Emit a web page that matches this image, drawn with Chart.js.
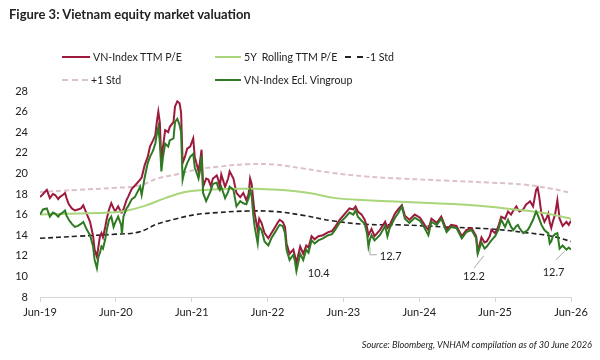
<!DOCTYPE html>
<html>
<head>
<meta charset="utf-8">
<script src="https://cdn.jsdelivr.net/npm/chart.js@4.4.1/dist/chart.umd.min.js"></script>
<style>
  html, body { margin:0; padding:0; background:#fff; }
  #wrap { position:relative; width:600px; height:360px; font-family: Lato, "Open Sans", sans-serif; color:#222; }
  #chart { position:absolute; left:0; top:0; }
  .title { position:absolute; left:9px; top:6px; font-size:13px; font-weight:bold; color:#222; }
  .src { position:absolute; right:8px; top:339px; font-size:9.2px; font-style:italic; color:#222; }
  .leg { position:absolute; font-size:10.6px; color:#222; height:14px; line-height:14px; white-space:pre; }
  .leg i { display:inline-block; vertical-align:middle; margin-right:3px; margin-top:-2px; }
</style>
</head>
<body>
<div id="wrap">
  <canvas id="chart" width="600" height="360"></canvas>
  <div class="title">Figure 3: Vietnam equity market valuation</div>
  <div id="legend"></div>
  <div class="src">Source: Bloomberg, VNHAM compilation as of 30 June 2026</div>
</div>
<script>
// ----------------- DATA -----------------
// x = years since Jun-19
const xLabels = ['Jun-19','Jun-20','Jun-21','Jun-22','Jun-23','Jun-24','Jun-25','Jun-26'];

const t = [0,0.04,0.09,0.13,0.17,0.20,0.24,0.26,0.30,0.33,0.35,0.38,0.42,0.46,0.50,0.54,0.57,0.62,0.66,0.70,
  0.72,0.75,0.77,0.79,0.81,0.83,0.86,0.88,0.91,0.94,0.97,0.99,1.03,1.07,1.08,1.10,1.14,1.16,1.21,1.25,
  1.32,1.34,1.38,1.42,1.45,1.49,1.52,1.54,1.56,1.58,1.60,1.62,1.65,1.69,1.71,1.76,1.78,1.81,1.84,1.86,
  1.88,1.91,1.94,1.98,2.02,2.04,2.09,2.11,2.13,2.15,2.19,2.22,2.25,2.28,2.33,2.35,2.37,2.39,2.44,2.48,
  2.50,2.55,2.59,2.64,2.68,2.72,2.75,2.77,2.79,2.81,2.83,2.87,2.89,2.92,2.96,3.01,3.05,3.10,3.14,3.16,
  3.20,3.23,3.25,3.29,3.34,3.36,3.38,3.43,3.47,3.51,3.54,3.58,3.62,3.67,3.73,3.80,3.85,3.89,3.95,4.02,
  4.08,4.13,4.16,4.19,4.24,4.28,4.31,4.33,4.35,4.37,4.41,4.48,4.55,4.58,4.61,4.68,4.72,4.77,4.81,4.87,
  4.94,5.01,5.07,5.12,5.16,5.23,5.29,5.36,5.42,5.49,5.56,5.62,5.69,5.75,5.77,5.82,5.86,5.89,5.93,5.95,
  6.00,6.04,6.08,6.13,6.17,6.21,6.24,6.28,6.30,6.32,6.37,6.41,6.43,6.46,6.50,6.54,6.56,6.58,6.61,6.65,
  6.68,6.70,6.72,6.74,6.76,6.79,6.82,6.85,6.89,6.94,6.97,7.00];

const vnIndexPE = [17.7,18.0,18.4,17.6,18.0,17.9,17.5,17.7,17.9,18.1,17.6,17.0,16.6,16.4,16.5,16.6,16.9,16.0,15.3,13.9,
  12.6,11.9,12.9,13.9,14.2,13.8,14.8,15.6,16.5,17.1,16.6,16.3,16.8,16.2,16.3,16.5,17.4,17.7,18.5,18.8,
  19.4,19.6,20.8,21.6,22.6,23.2,23.7,25.0,26.0,24.9,21.0,22.5,24.2,24.0,24.5,25.0,26.5,27.0,26.8,25.9,
  21.0,21.6,22.4,22.6,23.4,21.6,20.2,21.2,22.3,18.7,19.5,19.4,18.8,19.5,19.8,19.4,18.7,19.9,18.7,19.5,
  20.2,19.5,18.1,17.7,18.1,17.4,18.0,19.5,19.0,17.5,16.1,14.5,15.6,15.2,14.2,13.7,14.2,14.8,15.3,15.5,
  15.3,14.8,13.2,12.2,12.6,12.0,11.3,12.9,12.2,13.0,12.8,13.9,13.6,13.9,14.0,14.3,14.4,14.8,15.5,16.1,
  16.6,16.5,16.8,16.3,16.0,15.5,14.8,14.0,14.3,14.6,13.9,14.5,15.3,14.7,15.0,16.1,16.5,16.9,15.9,15.5,
  16.0,15.7,15.0,14.5,15.6,15.2,15.8,14.5,15.0,14.9,13.9,14.5,14.7,13.9,12.4,13.8,13.3,13.4,13.9,14.5,
  14.2,14.8,15.8,15.6,16.3,16.0,16.4,16.8,16.5,16.3,16.5,17.0,17.1,17.3,16.8,18.4,18.6,17.8,16.1,15.3,
  15.7,16.1,15.2,14.7,15.3,16.0,17.4,15.6,14.9,15.3,15.0,15.4];

const exVingroup = [16.0,16.5,16.6,15.8,16.2,16.1,15.8,16.0,16.2,16.4,15.9,15.5,15.1,14.8,14.9,15.1,15.3,14.5,14.0,12.9,
  11.6,10.8,11.9,12.3,12.9,12.7,13.6,14.5,15.5,15.8,14.8,15.2,15.8,15.0,14.1,15.8,16.6,16.8,17.5,17.7,
  18.7,17.9,19.6,21.0,21.6,22.2,22.9,23.8,24.5,23.0,20.2,21.5,22.9,22.6,23.2,23.4,25.0,25.3,24.7,24.0,
  19.4,20.4,21.0,21.6,21.9,20.6,19.5,20.3,21.7,18.1,17.3,17.8,18.3,19.0,19.1,18.6,18.4,18.7,17.6,18.2,
  18.7,18.4,16.8,17.3,17.1,17.0,17.6,18.4,17.8,16.1,14.8,13.2,14.8,14.5,13.4,13.0,13.7,14.3,14.8,15.0,
  14.9,14.2,12.6,11.6,12.1,11.5,10.5,12.2,11.6,12.6,12.3,13.5,13.2,13.5,13.7,14.0,14.1,14.5,15.2,15.7,
  16.2,16.0,16.4,15.8,15.4,15.1,14.2,12.9,13.6,14.0,13.5,14.0,14.9,13.9,14.7,15.7,16.1,16.8,15.6,15.2,
  15.7,15.4,14.7,14.0,15.3,15.0,15.6,14.3,14.8,14.7,13.7,14.3,14.5,13.7,12.2,13.3,12.7,12.9,13.3,13.5,
  13.9,14.5,15.5,14.8,15.5,14.8,14.5,14.9,15.0,14.7,14.2,14.4,14.5,14.9,15.5,16.3,16.0,15.6,15.0,14.5,
  14.3,14.2,13.2,13.4,13.9,14.1,14.2,12.7,13.0,12.6,12.8,12.6];

const rollT   = [0,0.5,0.92,1.12,1.38,1.65,1.91,2.18,2.5,2.85,3.2,3.55,3.9,4.3,4.75,5.2,5.7,6.2,6.6,6.85,7.0];
const rollPE  = [16.0,16.1,16.2,16.35,16.85,17.6,18.2,18.4,18.5,18.5,18.4,18.1,17.6,17.4,17.25,17.1,16.9,16.55,16.2,15.85,15.6];

const stdT    = [0,0.5,1.0,1.3,1.55,1.8,2.05,2.35,2.75,3.1,3.45,3.85,4.3,4.75,5.35,5.95,6.4,6.75,7.0];
const minusStd = [13.7,13.9,14.1,14.3,15.1,15.6,16.0,16.2,16.35,16.3,15.95,15.4,15.05,15.0,14.8,14.6,14.25,13.9,13.4];
const plusStd  = [18.2,18.4,18.6,18.8,19.5,19.9,20.35,20.65,20.9,20.85,20.5,20.05,19.7,19.5,19.3,19.1,18.9,18.5,18.1];

// callouts: text, text position (t, value), optional leader line [t1,v1,t2,v2]
const calloutText = ['10.4','12.7','12.2','12.7'];
const calloutPos  = [[3.53,10.33,'left'],[4.48,11.9,'left'],[5.72,9.95,'center'],[6.77,10.4,'center']];
const calloutLine = [null,[4.35,12.9,4.35,12.1,4.44,12.1],[5.85,12.0,5.72,10.8],[6.92,12.47,6.80,11.6]];
// ----------------------------------------

const pts = (xs, ys) => xs.map((x, i) => ({x: x, y: ys[i]}));

const series = [
  {label:'VN-Index TTM P/E', data:pts(t, vnIndexPE), color:'#9c1a3c', width:2, dash:[], order:3, tension:0},
  {label:'5Y  Rolling TTM P/E', data:pts(rollT, rollPE), color:'#a9d67a', width:2, dash:[], order:2, tension:0.4},
  {label:'-1 Std', data:pts(stdT, minusStd), color:'#222222', width:1.6, dash:[5,3], order:4, tension:0.4},
  {label:'+1 Std', data:pts(stdT, plusStd), color:'#dcc2c6', width:2, dash:[5,3], order:5, tension:0.4},
  {label:'VN-Index Ecl. Vingroup', data:pts(t, exVingroup), color:'#2f7a22', width:2, dash:[], order:1, tension:0}
];

// html legend, laid out like the reference
const legendPos = [[62,50,28],[215,50,26],[345,50,18],[62,73,26],[215,73,26]];
const legend = document.getElementById('legend');
series.forEach((s, i) => {
  const p = legendPos[i];
  const d = document.createElement('div');
  d.className = 'leg';
  d.style.left = p[0] + 'px';
  d.style.top = p[1] + 'px';
  const border = s.dash.length ? 'dashed' : 'solid';
  d.innerHTML = `<i style="width:${p[2]}px;border-top:2px ${border} ${s.color}"></i>${s.label}`;
  legend.appendChild(d);
});

const callouts = {
  id:'callouts',
  afterDatasetsDraw(chart){
    const ctx = chart.ctx, xs = chart.scales.x, ys = chart.scales.y;
    ctx.save();
    ctx.strokeStyle = '#a8a8a8';
    ctx.lineWidth = 1;
    calloutLine.forEach(l => {
      if(!l) return;
      ctx.beginPath();
      for(let k=0; k<l.length; k+=2){
        const px = xs.getPixelForValue(l[k]), py = ys.getPixelForValue(l[k+1]);
        if(k===0) ctx.moveTo(px, py); else ctx.lineTo(px, py);
      }
      ctx.stroke();
    });
    ctx.fillStyle = '#222';
    ctx.font = '11px Lato, "Open Sans", sans-serif';
    ctx.textBaseline = 'middle';
    calloutText.forEach((txt, i) => {
      const p = calloutPos[i];
      ctx.textAlign = p[2];
      ctx.fillText(txt, xs.getPixelForValue(p[0]), ys.getPixelForValue(p[1]));
    });
    ctx.restore();
  }
};

new Chart(document.getElementById('chart'), {
  type:'line',
  data:{
    datasets: series.map(s => ({
      label:s.label, data:s.data, borderColor:s.color, backgroundColor:s.color,
      borderWidth:s.width, borderDash:s.dash, order:s.order, tension:s.tension,
      pointRadius:0, fill:false
    }))
  },
  options:{
    responsive:false,
    animation:false,
    layout:{ padding:{ left:0, right:29, top:91, bottom:43 } },
    plugins:{ legend:{display:false}, tooltip:{enabled:false} },
    scales:{
      x:{
        type:'linear', min:0, max:7,
        afterFit(s){ s.height = 20; },
        grid:{ drawOnChartArea:false, color:'#d6d6d6', tickLength:5 },
        border:{ color:'#d6d6d6' },
        ticks:{ stepSize:1, autoSkip:false, maxRotation:0, padding:4, color:'#222',
          font:{ family:'Lato, "Open Sans", sans-serif', size:11 },
          callback: v => xLabels[v] }
      },
      y:{
        min:8, max:28,
        afterFit(s){ s.width = 40; },
        grid:{ display:false },
        border:{ display:false },
        ticks:{ stepSize:2, padding:4, color:'#222',
          font:{ family:'Lato, "Open Sans", sans-serif', size:11 } }
      }
    }
  },
  plugins:[callouts]
});
</script>
</body>
</html>
